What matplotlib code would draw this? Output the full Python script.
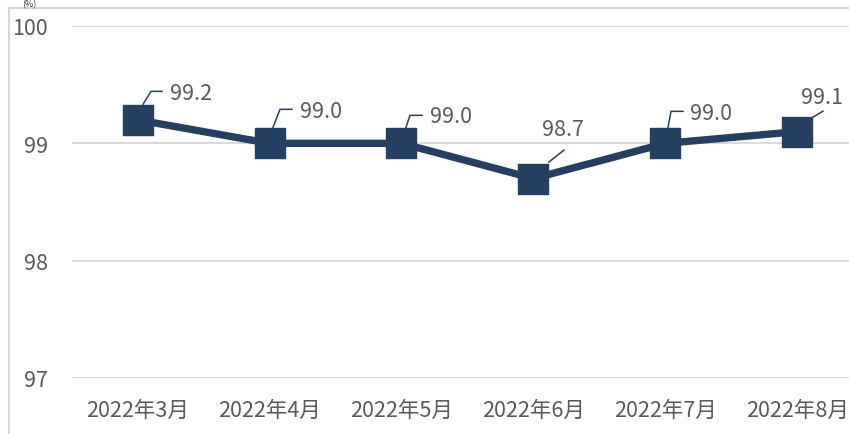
import matplotlib.pyplot as plt
import matplotlib.transforms as mtransforms
from matplotlib.lines import Line2D

plt.rcParams['font.family'] = ['Noto Sans CJK SC', 'DejaVu Sans']

months = ['2022年3月', '2022年4月', '2022年5月', '2022年6月', '2022年7月', '2022年8月']
values = [99.2, 99.0, 99.0, 98.7, 99.0, 99.1]
yticks = [97, 98, 99, 100]

# label text offsets and leader line paths, in pixels from each point (image y down)
label_off = [(54, -27), (51.5, -32), (49.5, -27), (29.5, -50), (45.5, -30), (24.5, -35)]
leaders = [
    [(5.5, -15.5), (13.5, -28.5), (24.5, -28.5)],
    [(3.5, -16), (10.5, -34), (22.5, -34)],
    [(4.5, -16), (8.5, -28), (20.5, -28)],
    [(15.5, -16.5), (30.5, -28.5)],
    [(2.5, -16), (5.5, -32), (17.5, -32)],
    [(15.5, -14.5), (25.5, -20.5)],
]

W, H = 849, 435
fig = plt.figure(figsize=(W / 100, H / 100), dpi=100)
ax = fig.add_axes([71.5 / W, (H - 379) / H, 792 / W, 352 / H])

navy = '#243F60'
gray = '#595959'

x = list(range(len(months)))
ax.plot(x, values, color=navy, lw=5.3, marker='s', ms=21.5, mec=navy, mfc=navy,
        mew=1, zorder=3, clip_on=False)

ax.set_xlim(-0.5, len(months) - 0.5)
ax.set_ylim(97, 100)
ax.set_yticks(yticks)
ax.set_xticks(x)
ax.set_xticklabels(months)
ax.grid(axis='y', color='#D9D9D9', lw=1.4)
ax.set_axisbelow(True)
for s in ax.spines.values():
    s.set_visible(False)
ax.tick_params(axis='y', length=0, pad=17, labelsize=15.5, labelcolor=gray)
ax.tick_params(axis='x', length=0, pad=15, labelsize=15.5, labelcolor=gray)

for i, v in enumerate(values):
    base = mtransforms.IdentityTransform() + mtransforms.ScaledTranslation(i, v, ax.transData)
    dx, dy = label_off[i]
    ax.text(dx, -dy, f'{v:.1f}', transform=base, ha='center', va='center',
            fontsize=15.5, color=gray)
    pts = leaders[i]
    ax.add_line(Line2D([p[0] for p in pts], [-p[1] for p in pts], transform=base,
                       color=navy, lw=1.1, clip_on=False))

# outer frame (left and top edges visible)
fig.add_artist(Line2D([9 / W, 9 / W], [0, (H - 9) / H], color='#C5CED8', lw=1.2))
fig.add_artist(Line2D([9 / W, 1], [(H - 9) / H, (H - 9) / H], color='#C5CED8', lw=1.2))
fig.text(22 / W, (H - 0.5) / H, '(%)', fontsize=6.5, color='#333333', va='top', ha='left')

fig.savefig('out.png', dpi=100)
